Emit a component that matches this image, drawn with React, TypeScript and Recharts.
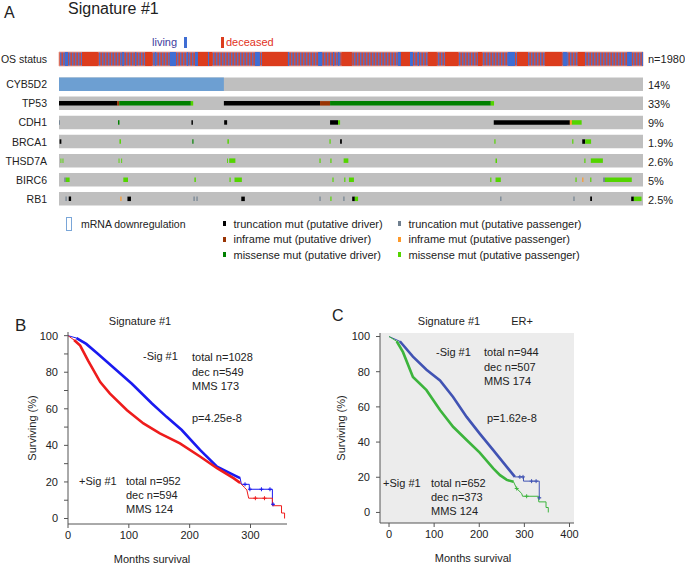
import { ComposedChart, XAxis, YAxis, ReferenceArea, Line, Scatter } from 'recharts'

const FONT = '"Liberation Sans", Arial, Helvetica, sans-serif'

// ---------- panel A: oncoprint (patient columns 0..1980) ----------
const nPatients = 1980
const genes = ['CYB5D2', 'TP53', 'CDH1', 'BRCA1', 'THSD7A', 'BIRC6', 'RB1']
const genePct = ['14%', '33%', '9%', '1.9%', '2.6%', '5%', '2.5%']

// OS status: mixed background, pure deceased blocks, living stripes
const osDeceasedBlocks: [number, number][] = [
  [78, 132], [292, 315], [471, 519], [688, 776], [959, 993], [1156, 1190],
  [1251, 1281], [1309, 1353], [1420, 1434], [1553, 1590], [1648, 1705], [1759, 1783],
]
const osLivingStripes: [number, number][] = [
  [20, 31], [214, 220], [258, 262], [325, 329], [376, 397], [434, 438], [461, 471],
  [505, 509], [664, 681], [776, 780], [878, 892], [929, 933], [946, 950], [1149, 1159],
  [1190, 1200], [1217, 1221], [1522, 1546], [1709, 1722], [1926, 1942], [1976, 1980],
]

type Alt = [number, number, string]
const cyb5d2Alt: Alt[] = [[0, 559, 'DOWN']]
const tp53Alt: Alt[] = [
  [0, 197, 'TD'], [197, 204, 'ID'], [204, 447, 'MD'], [447, 455, 'MP'],
  [559, 885, 'TD'], [885, 919, 'ID'], [919, 1464, 'MD'], [1464, 1475, 'MP'],
]
const cdh1Alt: Alt[] = [
  [0, 3, 'TP'], [200, 205, 'MD'], [449, 454, 'TD'], [560, 570, 'TD'], [919, 946, 'TD'],
  [946, 953, 'MP'], [1474, 1732, 'TD'], [1732, 1739, 'IP'], [1739, 1772, 'MP'],
]
const brca1Alt: Alt[] = [
  [2, 8, 'TD'], [205, 210, 'MP'], [452, 456, 'MD'], [571, 576, 'MP'], [917, 921, 'MP'],
  [953, 959, 'TD'], [1476, 1480, 'MP'], [1740, 1744, 'MP'], [1774, 1784, 'TD'], [1784, 1804, 'MP'],
]
const thsd7aAlt: Alt[] = [
  [5, 8, 'MP'], [12, 15, 'MP'], [202, 205, 'MP'], [211, 214, 'MP'], [570, 573, 'MP'],
  [577, 598, 'MP'], [883, 887, 'MP'], [920, 924, 'MP'], [965, 981, 'MP'], [1480, 1485, 'MP'],
  [1781, 1785, 'MP'], [1803, 1844, 'MP'],
]
const birc6Alt: Alt[] = [
  [18, 23, 'TP'], [23, 36, 'MP'], [218, 234, 'MP'], [459, 464, 'MP'], [578, 582, 'MP'],
  [595, 620, 'MP'], [927, 931, 'MP'], [967, 971, 'MP'], [983, 1000, 'MP'], [1462, 1466, 'MP'],
  [1480, 1498, 'MP'], [1751, 1755, 'MP'], [1774, 1778, 'IP'], [1801, 1805, 'MP'],
  [1845, 1851, 'TP'], [1851, 1942, 'MP'],
]
const rb1Alt: Alt[] = [
  [22, 26, 'TP'], [33, 41, 'TD'], [208, 212, 'IP'], [232, 244, 'TD'], [456, 460, 'TP'],
  [466, 470, 'TP'], [618, 630, 'TD'], [883, 887, 'TP'], [920, 924, 'MP'], [964, 968, 'TP'],
  [994, 1003, 'TD'], [1003, 1014, 'MP'], [1496, 1500, 'TP'], [1744, 1748, 'TP'],
  [1801, 1807, 'TD'], [1940, 1949, 'TD'], [1949, 1975, 'MP'],
]
const geneAlts = [cyb5d2Alt, tp53Alt, cdh1Alt, brca1Alt, thsd7aAlt, birc6Alt, rb1Alt]

const altColor: Record<string, string> = {
  DOWN: '#6d9fd2', TD: '#000000', TP: '#708090', ID: '#993404',
  IP: '#fe9929', MD: '#008000', MP: '#53d400',
}
const legendItems = [
  { label: 'truncation mut (putative driver)', type: 'TD' },
  { label: 'truncation mut (putative passenger)', type: 'TP' },
  { label: 'inframe mut (putative driver)', type: 'ID' },
  { label: 'inframe mut (putative passenger)', type: 'IP' },
  { label: 'missense mut (putative driver)', type: 'MD' },
  { label: 'missense mut (putative passenger)', type: 'MP' },
]

// ---------- panels B / C: Kaplan-Meier (months, % surviving) ----------
const bNegSig: [number, number][] = [
  [0, 100], [14, 98.7], [30, 95.5], [48, 90.4], [77, 81.9], [105, 73.7], [138, 62.9],
  [162, 55.6], [187, 48.4], [217, 37.5], [245, 28.4], [272, 23.9], [283, 22.1], [285, 18.7],
  [298, 18.7], [298, 16], [336, 16], [336, 7.8], [339, 7.8],
]
const bPosSig: [number, number][] = [
  [0, 100], [10, 97.6], [20, 94.6], [33, 86.4], [53, 74.6], [69, 68.3], [97, 59.2],
  [124, 52], [151, 46.6], [184, 41.1], [217, 33.9], [245, 27.5], [272, 22.1], [283, 19.5],
  [290, 17], [294, 15.6], [297, 11.1], [336, 11.1], [336, 7], [351, 7], [351, 3], [356, 3], [356, 0],
]
const bNegCensor: [number, number][] = [[291, 18.7], [299, 16], [318, 16], [332, 16], [337, 7.8]]
const bPosCensor: [number, number][] = [[308, 11.1], [323, 11.1]]

const cNegSig: [number, number][] = [
  [0, 100], [24, 97.3], [53, 88.6], [83, 81.1], [113, 75], [142, 65.6], [172, 54.3],
  [201, 44.8], [231, 35.4], [261, 25.9], [279, 20.2], [298, 20.2], [298, 17.8], [333, 17.8],
  [333, 8.3], [336, 8.3],
]
const cPosSig: [number, number][] = [
  [0, 100], [17, 97.3], [31, 91.1], [53, 77], [83, 69.5], [113, 58.2], [142, 48.7],
  [172, 41.2], [201, 34], [231, 25], [246, 21.2], [261, 18.5], [276, 17.4], [283, 13.6],
  [294, 10.8], [296, 9.2], [331, 9.2], [332, 6], [348, 6], [348, 2.8], [353, 2.8], [353, 0],
]
const cNegCensor: [number, number][] = [[290, 20.2], [297, 20.2], [316, 17.8], [326, 17.8], [333, 8.3]]
const cPosCensor: [number, number][] = [[283, 13.6], [305, 9.2]]

const bXTicks = [0, 100, 200, 300]
const bYTicks = [0, 10, 20, 30, 40, 50, 60, 70, 80, 90, 100]
const cXTicks = [0, 100, 200, 300, 400]
const cYTicks = [0, 20, 40, 60, 80, 100]

const toPts = (a: [number, number][]) => a.map(([m, s]) => ({ m, s }))

// layout of the oncoprint rows (pixels)
const OS_TOP = 52
const OS_H = 14
const ROW_TOP = 77.5
const ROW_PITCH = 19.1
const ROW_H = 13.5

function Txt({ x, y, children, size = 11, color = '#222', anchor = 'start', rotate = false }: any) {
  const style: any = {
    position: 'absolute', top: y, fontSize: size, lineHeight: 1, whiteSpace: 'nowrap',
    color, fontFamily: FONT,
  }
  if (anchor === 'end') {
    style.right = 685 - x
    style.transform = 'translateY(-50%)'
  } else if (anchor === 'middle') {
    style.left = x
    style.transform = rotate ? 'translate(-50%,-50%) rotate(-90deg)' : 'translate(-50%,-50%)'
  } else {
    style.left = x
    style.transform = 'translateY(-50%)'
  }
  return <div style={style}>{children}</div>
}

function OncoPrint() {
  const H = 215
  return (
    <ComposedChart width={685} height={H} margin={{ top: 0, right: 42, bottom: 0, left: 59 }} data={[]}>
      <defs>
        <pattern id="osMix" width={3} height={OS_H} patternUnits="userSpaceOnUse">
          <rect width={3} height={OS_H} fill="#cf4a3a" />
          <rect width={1.4} height={OS_H} fill="#5a6cc0" />
        </pattern>
      </defs>
      <XAxis type="number" dataKey="x" domain={[0, nPatients]} hide allowDataOverflow />
      <YAxis type="number" domain={[0, H]} reversed hide allowDataOverflow />
      <ReferenceArea x1={0} x2={nPatients} y1={OS_TOP} y2={OS_TOP + OS_H} fill="url(#osMix)" fillOpacity={1} stroke="#e9a596" strokeWidth={0.8} />
      {osDeceasedBlocks.map(([a, b], i) => (
        <ReferenceArea key={'d' + i} x1={a} x2={b} y1={OS_TOP} y2={OS_TOP + OS_H} fill="#dc3c1d" fillOpacity={1} />
      ))}
      {osLivingStripes.map(([a, b], i) => (
        <ReferenceArea key={'l' + i} x1={a} x2={b} y1={OS_TOP} y2={OS_TOP + OS_H} fill="#3f6dd3" fillOpacity={1} />
      ))}
      {genes.map((g, i) => {
        const top = ROW_TOP + i * ROW_PITCH
        return <ReferenceArea key={'r' + g} x1={0} x2={nPatients} y1={top} y2={top + ROW_H} fill="#bfbfbf" fillOpacity={1} />
      })}
      {geneAlts.map((alts, i) => {
        const top = ROW_TOP + i * ROW_PITCH
        return alts.map(([a, b, t], j) => {
          const full = t === 'DOWN'
          return (
            <ReferenceArea
              key={'a' + i + '-' + j}
              x1={a}
              x2={b}
              y1={full ? top : top + ROW_H / 3}
              y2={full ? top + ROW_H : top + (2 * ROW_H) / 3}
              fill={altColor[t]}
              fillOpacity={1}
            />
          )
        })
      })}
    </ComposedChart>
  )
}

function Censor(color: string) {
  return (p: any) => (
    <g>
      <line x1={p.cx - 2} x2={p.cx + 2} y1={p.cy} y2={p.cy} stroke={color} strokeWidth={1} />
      <line x1={p.cx} x2={p.cx} y1={p.cy - 2} y2={p.cy + 2} stroke={color} strokeWidth={1} />
    </g>
  )
}

function KMChart({ margin, xDomain, xTicks, yDomain, yTicks, series, bg }: any) {
  const axisStyle = { fill: '#222', fontSize: 11, fontFamily: FONT }
  return (
    <ComposedChart width={300} height={264} margin={margin}>
      <XAxis
        type="number" dataKey="m" domain={xDomain} ticks={xTicks} allowDataOverflow
        height={30} tickSize={4} tickMargin={3} stroke="#555" tick={axisStyle}
      />
      <YAxis
        type="number" dataKey="s" domain={yDomain} ticks={yTicks} allowDataOverflow
        width={30} tickSize={4} tickMargin={6} stroke="#555" tick={axisStyle}
        tickFormatter={(v: number) => (v % 20 === 0 ? String(v) : '')}
      />
      {bg && (
        <ReferenceArea x1={xDomain[0]} x2={xDomain[1]} y1={yDomain[0]} y2={yDomain[1]} fill={bg} fillOpacity={1} />
      )}
      {series.map((s: any) => (
        <Line
          key={s.name + 'thin'} data={toPts(s.pts)} dataKey="s" type="linear" stroke={s.color}
          strokeWidth={1} dot={false} isAnimationActive={false}
        />
      ))}
      {series.map((s: any) => (
        <Line
          key={s.name + 'thick'} data={toPts(s.pts).filter((p) => p.m >= s.body[0] && p.m <= s.body[1])}
          dataKey="s" type="linear" stroke={s.color} strokeWidth={2.6} dot={false} isAnimationActive={false}
        />
      ))}
      {series.map((s: any) => (
        <Scatter
          key={s.name + 'cens'} data={toPts(s.censor)} dataKey="s" fill={s.color}
          shape={Censor(s.color)} isAnimationActive={false}
        />
      ))}
    </ComposedChart>
  )
}

export default function App() {
  return (
    <div style={{ position: 'absolute', left: 0, top: 0, width: 685, height: 564, background: '#fff', overflow: 'hidden', fontFamily: FONT }}>
      {/* panel A */}
      <div style={{ position: 'absolute', left: 0, top: 0 }}>
        <OncoPrint />
      </div>
      <Txt x={4} y={13} size={16}>A</Txt>
      <Txt x={68} y={9} size={16}>Signature #1</Txt>
      <Txt x={152} y={42} color="#3d3d9e">living</Txt>
      <div style={{ position: 'absolute', left: 184, top: 37, width: 3, height: 11, background: '#3f6dd3' }} />
      <div style={{ position: 'absolute', left: 220.5, top: 37, width: 3, height: 11, background: '#dc3c1d' }} />
      <Txt x={226} y={42} color="#e2321c">deceased</Txt>
      <Txt x={47} y={OS_TOP + OS_H / 2} anchor="end" size={10.5}>OS status</Txt>
      <Txt x={648} y={OS_TOP + OS_H / 2} size={11}>n=1980</Txt>
      {genes.map((g, i) => (
        <Txt key={g} x={47} y={ROW_TOP + i * ROW_PITCH + ROW_H / 2} anchor="end" size={10.5}>{g}</Txt>
      ))}
      {genePct.map((p, i) => (
        <Txt key={genes[i] + 'p'} x={648} y={ROW_TOP + i * ROW_PITCH + ROW_H / 2 + 1} size={11}>{p}</Txt>
      ))}
      {/* oncoprint legend */}
      <div style={{ position: 'absolute', left: 66, top: 217, width: 4, height: 12, border: '1px solid #7aa6d8', background: '#fff' }} />
      <Txt x={81} y={224} size={10.5}>mRNA downregulation</Txt>
      {legendItems.map((it, i) => {
        const x = i % 2 === 0 ? 223 : 398
        const y = 223.5 + Math.floor(i / 2) * 15.5
        return (
          <div key={it.type}>
            <div style={{ position: 'absolute', left: x, top: y - 2.5, width: 3, height: 5, background: altColor[it.type] }} />
            <Txt x={x + 10.5} y={y} size={11}>{it.label}</Txt>
          </div>
        )
      })}

      {/* panel B */}
      <div style={{ position: 'absolute', left: 0, top: 300 }}>
        <KMChart
          margin={{ top: 32, right: 13, bottom: 10, left: 38 }}
          xDomain={[0, 360]} xTicks={bXTicks} yDomain={[-3, 102]} yTicks={bYTicks}
          series={[
            { name: 'bneg', pts: bNegSig, censor: bNegCensor, color: '#1a1af0', body: [12, 283] },
            { name: 'bpos', pts: bPosSig, censor: bPosCensor, color: '#ee1c1c', body: [8, 283] },
          ]}
        />
      </div>
      <Txt x={15} y={325} size={17}>B</Txt>
      <Txt x={140} y={321} anchor="middle">Signature #1</Txt>
      <Txt x={32} y={428} anchor="middle" rotate>Surviving (%)</Txt>
      <Txt x={152} y={559} anchor="middle">Months survival</Txt>
      <Txt x={143} y={356}>-Sig #1</Txt>
      <Txt x={192} y={357}>total n=1028</Txt>
      <Txt x={192} y={372}>dec n=549</Txt>
      <Txt x={192} y={386}>MMS 173</Txt>
      <Txt x={192} y={418}>p=4.25e-8</Txt>
      <Txt x={79} y={481}>+Sig #1</Txt>
      <Txt x={126} y={481}>total n=952</Txt>
      <Txt x={126} y={495}>dec n=594</Txt>
      <Txt x={126} y={509}>MMS 124</Txt>

      {/* panel C */}
      <div style={{ position: 'absolute', left: 320, top: 300 }}>
        <KMChart
          margin={{ top: 33, right: 46, bottom: 11, left: 30 }}
          xDomain={[-20, 410]} xTicks={cXTicks} yDomain={[-6, 102]} yTicks={cYTicks} bg="#ececec"
          series={[
            { name: 'cneg', pts: cNegSig, censor: cNegCensor, color: '#4153b3', body: [10, 279] },
            { name: 'cpos', pts: cPosSig, censor: cPosCensor, color: '#3cb43c', body: [15, 276] },
          ]}
        />
      </div>
      <Txt x={332} y={316} size={16}>C</Txt>
      <Txt x={449} y={321} anchor="middle">Signature #1</Txt>
      <Txt x={522} y={321} anchor="middle">ER+</Txt>
      <Txt x={341} y={428} anchor="middle" rotate>Surviving (%)</Txt>
      <Txt x={473} y={558} anchor="middle">Months survival</Txt>
      <Txt x={436} y={352}>-Sig #1</Txt>
      <Txt x={484} y={352}>total n=944</Txt>
      <Txt x={484} y={367}>dec n=507</Txt>
      <Txt x={484} y={381}>MMS 174</Txt>
      <Txt x={487} y={418}>p=1.62e-8</Txt>
      <Txt x={383} y={483}>+Sig #1</Txt>
      <Txt x={431} y={483}>total n=652</Txt>
      <Txt x={431} y={497}>dec n=373</Txt>
      <Txt x={431} y={511}>MMS 124</Txt>
    </div>
  )
}
